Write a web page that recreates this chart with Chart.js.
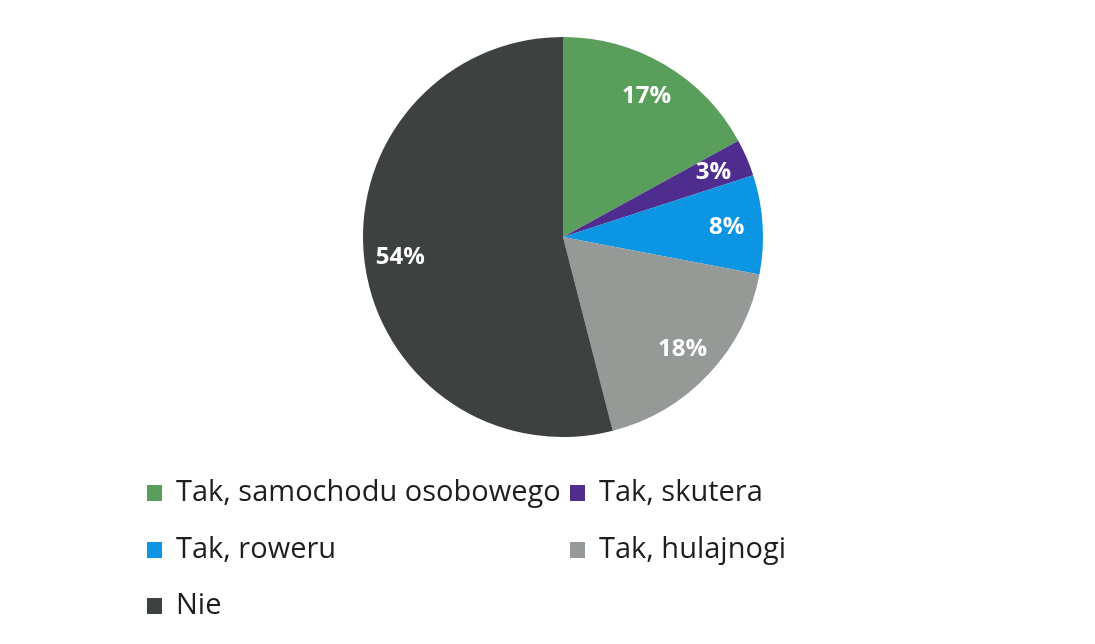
<!DOCTYPE html>
<html>
<head>
<meta charset="utf-8">
<script src="https://cdn.jsdelivr.net/npm/chart.js@4"></script>
<style>
  html, body { margin: 0; padding: 0; background: #fff; }
  #pieChart { display: block; }
</style>
</head>
<body>
<canvas id="pieChart" width="1095" height="644"></canvas>
<script>
// kategorie i udziały procentowe
const labels = ['Tak, samochodu osobowego', 'Tak, skutera', 'Tak, roweru', 'Tak, hulajnogi', 'Nie'];
const values = [17, 3, 8, 18, 54];
const colors = ['#5a9e5c', '#4f2d8f', '#0b95e3', '#969a97', '#3d413f'];

// etykiety z procentami na wycinkach
const sliceLabels = {
  id: 'sliceLabels',
  afterDatasetsDraw(chart) {
    const ctx = chart.ctx;
    const meta = chart.getDatasetMeta(0);
    ctx.save();
    ctx.font = 'bold 24px "Open Sans", sans-serif';
    ctx.fillStyle = '#ffffff';
    ctx.textAlign = 'center';
    ctx.textBaseline = 'middle';
    meta.data.forEach((arc, i) => {
      const mid = (arc.startAngle + arc.endAngle) / 2;
      const r = arc.outerRadius * 0.82;
      ctx.fillText(values[i] + '%', arc.x + Math.cos(mid) * r, arc.y + Math.sin(mid) * r);
    });
    ctx.restore();
  }
};

// legenda w dwóch kolumnach pod wykresem
const gridLegend = {
  id: 'gridLegend',
  afterDraw(chart) {
    const ctx = chart.ctx;
    const colX = [147, 570];
    const rowY = [493, 550, 606];
    ctx.save();
    ctx.font = '29px "Open Sans", sans-serif';
    ctx.textBaseline = 'middle';
    ctx.textAlign = 'left';
    chart.data.labels.forEach((name, i) => {
      const x = colX[i % 2];
      const y = rowY[Math.floor(i / 2)];
      ctx.fillStyle = chart.data.datasets[0].backgroundColor[i];
      ctx.fillRect(x, y - 8, 15, 16);
      ctx.fillStyle = '#1e1e1e';
      ctx.fillText(name, x + 29, y);
    });
    ctx.restore();
  }
};

const ctx = document.getElementById('pieChart').getContext('2d');

new Chart(ctx, {
  type: 'pie',
  data: {
    labels: labels,
    datasets: [{
      data: values,
      backgroundColor: colors,
      borderWidth: 0
    }]
  },
  options: {
    responsive: false,
    animation: false,
    layout: {
      padding: { left: 363, right: 332, top: 37, bottom: 207 }
    },
    plugins: {
      legend: { display: false },
      tooltip: { enabled: false }
    }
  },
  plugins: [sliceLabels, gridLegend]
});
</script>
</body>
</html>
